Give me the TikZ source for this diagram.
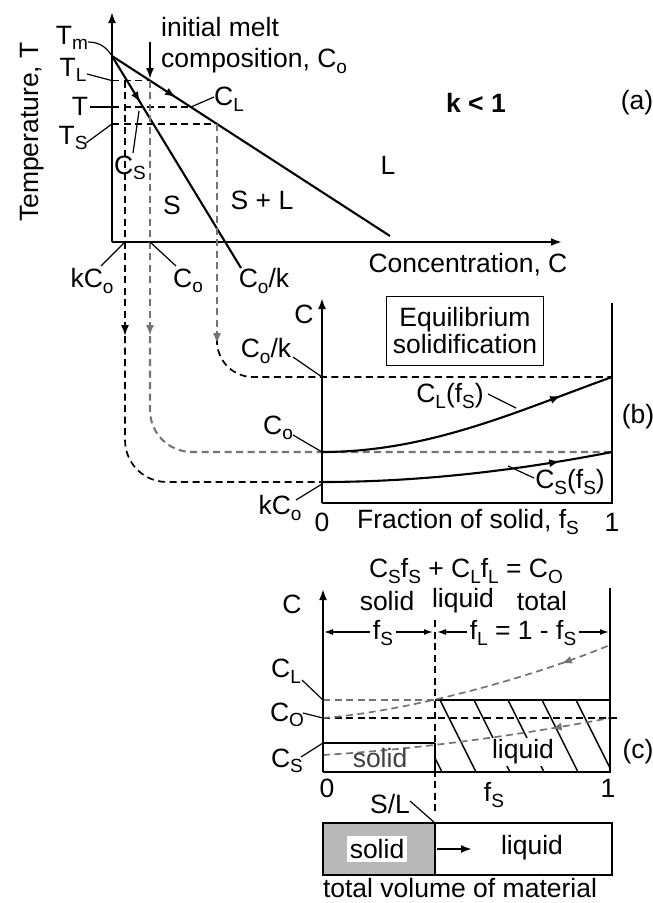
\documentclass[tikz,border=0pt]{standalone}
\usepackage{fontspec}
\setmainfont{Liberation Sans}
\usetikzlibrary{arrows.meta,decorations.markings}
\newcommand{\sbs}[1]{\raisebox{-5.5pt}{\fontsize{19}{20}\selectfont #1}}
\begin{document}
\begin{tikzpicture}[x=1pt,y=-1pt,
  lbl/.style={font=\fontsize{26.5}{29}\selectfont, inner sep=1pt},
  axis/.style={line width=2.3pt},
  curve/.style={line width=2.1pt},
  dsh/.style={line width=1.7pt, dash pattern=on 7pt off 4.5pt},
  gdsh/.style={dsh, draw=black!55},
  lead/.style={line width=1.2pt},
  arrowed/.style={-{Latex[length=11pt,width=8pt]}},
  midarrow/.style={decoration={markings, mark=at position #1 with {\arrow{Latex[length=11pt,width=8pt]}}}, postaction=decorate},
  midrev/.style={decoration={markings, mark=at position #1 with {\arrow{Latex[length=10pt,width=8pt,reversed]}}}, postaction=decorate},
]
\useasboundingbox (0,0) rectangle (653,903);

% ---------------- panel (a)
\coordinate (O) at (112,242);
\coordinate (Ytop) at (112,12);
\coordinate (Xend) at (562,242);
\coordinate (Tm) at (112,56);
\coordinate (Lend) at (390,236);
\coordinate (Send) at (241,268);
\coordinate (TL0) at (112,80.6);
\coordinate (TLl) at (150,80.6);
\coordinate (T0) at (112,107);
\coordinate (Tl) at (191,107);
\coordinate (Ts) at (139,111);
\coordinate (TS0) at (112,124);
\coordinate (TSl) at (217,124);
\coordinate (kCt) at (125,80.6);
\coordinate (kCa) at (125,242);
\coordinate (Cot) at (150,80.6);
\coordinate (Coa) at (150,242);
\coordinate (kCarr) at (125,336);
\coordinate (Coarr) at (150,336);
\coordinate (Ckarr) at (217,344);
\coordinate (meltTop) at (150,42);
\coordinate (meltTip) at (150,79);

\draw[axis,arrowed] (O) -- (Ytop);
\draw[axis,arrowed] (O) -- (Xend);
\draw[curve,midarrow=0.23] (Tm) -- (Lend);
\draw[curve,midarrow=0.22] (Tm) -- (Send);
\draw[dsh] (TL0) -- (TLl);
\draw[dsh] (T0) -- (Tl);
\draw[dsh] (TS0) -- (TSl);
\draw[dsh,arrowed] (kCt) -- (kCarr);
\draw[gdsh,line width=2.1pt,arrowed] (Cot) -- (Coarr);
\draw[gdsh,arrowed] (TSl) -- (Ckarr);
\draw[line width=1.9pt,arrowed] (meltTop) -- (meltTip);

\node[lbl,rotate=90] (temp) at (32,132) {Temperature, T};
\node[lbl] (tm) at (72,38) {T\sbs{m}};
\node[lbl] (tl) at (73,70) {T\sbs{L}};
\node[lbl] (t) at (80,106) {T};
\node[lbl] (ts) at (73,138) {T\sbs{S}};
\node[lbl] (cl) at (229,99) {C\sbs{L}};
\node[lbl] (cs) at (130,168) {C\sbs{S}};
\node[lbl,anchor=west] (melt1) at (160,27) {initial melt};
\node[lbl,anchor=west] (melt2) at (160,61) {composition, C\sbs{o}};
\node[lbl,font=\fontsize{26.5}{29}\selectfont\bfseries] (k1) at (476,103) {k < 1};
\node[lbl] (pa) at (637,103) {(a)};
\node[lbl] (Lreg) at (388,165) {L};
\node[lbl] (SLreg) at (262,200) {S + L};
\node[lbl] (Sreg) at (172,205) {S};
\node[lbl] (conc) at (468,265) {Concentration, C};
\node[lbl] (kco) at (92,281) {kC\sbs{o}};
\node[lbl] (co) at (188,281) {C\sbs{o}};
\node[lbl] (cok) at (264,281) {C\sbs{o}/k};

\draw[lead] (88,42) .. controls (100,42) and (107,48) .. (Tm);
\draw[lead] (87,74) -- (TL0);
\draw[lead] (90,107) -- (T0);
\draw[lead] (86,143) -- (TS0);
\draw[lead] (214,97) -- (Tl);
\draw[lead] (133,153) -- (Ts);
\draw[lead] (101,266) -- (kCa);
\draw[lead] (176,266) -- (Coa);

% ---------------- panel (b)
\coordinate (bO) at (322,503);
\coordinate (bTop) at (322,298);
\coordinate (bBR) at (612,503);
\coordinate (bTR) at (612,303);
\coordinate (bCk) at (322,377);
\coordinate (bCo) at (322,452);
\coordinate (bkC) at (322,482);
\coordinate (bCkR) at (612,377);
\coordinate (bCoR) at (612,452);

\draw[dsh,rounded corners=36pt] (Ckarr) -- (217,377) -- (bCkR);
\draw[gdsh,line width=2.1pt,rounded corners=42pt] (Coarr) -- (150,452) -- (bCoR);
\draw[dsh,rounded corners=42pt] (kCarr) -- (125,482) -- (bkC);

\draw[axis,arrowed] (bO) -- (bTop);
\draw[axis] (bO) -- (bBR) -- (bTR);
\draw[curve,midarrow=0.82] (bCo) .. controls (430,452) and (520,410) .. (bCkR);
\draw[curve,midarrow=0.82] (bkC) .. controls (430,482) and (530,468) .. (bCoR);

\node[lbl] (bC) at (304,314) {C};
\node[lbl,draw,line width=1.6pt,align=center,minimum width=157pt,minimum height=69pt,inner sep=2pt] (eqbox) at (465,331) {Equilibrium\\[-2pt]solidification};
\node[lbl] (bcok) at (266,351) {C\sbs{o}/k};
\node[lbl] (bco) at (278,428) {C\sbs{o}};
\node[lbl] (bkco) at (280,508) {kC\sbs{o}};
\node[lbl] (b0) at (322,522) {0};
\node[lbl] (b1) at (612,522) {1};
\node[lbl] (fracs) at (468,522) {Fraction of solid, f\sbs{S}};
\node[lbl] (pb) at (638,417) {(b)};
\node[lbl] (clf) at (450,396) {C\sbs{L}(f\sbs{S})};
\node[lbl] (csf) at (570,482) {C\sbs{S}(f\sbs{S})};
\draw[lead] (293,357) -- (bCk);
\draw[lead] (293,435) -- (bCo);
\draw[lead] (296,500) -- (322,484);
\draw[lead] (488,394) -- (516,408);
\draw[lead] (534,478) -- (508,466);

% ---------------- panel (c)
\coordinate (cO) at (323,772);
\coordinate (cTop) at (323,589);
\coordinate (cBR) at (610,772);
\coordinate (cTR) at (610,588);
\coordinate (cSL) at (435,620);
\coordinate (cSLb) at (435,815);
\coordinate (cCL) at (323,700);
\coordinate (cCo) at (323,718);
\coordinate (cCs) at (323,743);
\coordinate (cCLi) at (435,700);
\coordinate (cCsi) at (435,743);
\coordinate (cCoR) at (617,718);

\begin{scope}
\clip (435,700) rectangle (610,772);
\foreach \x in {372,406,...,620} \draw[line width=1.4pt] (\x,700) -- (\x+36,772);
\end{scope}
\draw[curve] (cCLi) -- (610,700);
\draw[curve] (cCs) -- (cCsi);
\draw[gdsh] (cCL) -- (cCLi);
\draw[dsh] (cCo) -- (cCoR);
\draw[gdsh,midrev=0.86] (cCo) .. controls (400,712) and (520,682) .. (610,645);
\draw[gdsh,midrev=0.83] (323,755) .. controls (420,749) and (520,735) .. (610,718);
\draw[dsh] (cSL) -- (cSLb);

\draw[axis,arrowed] (cO) -- (cTop);
\draw[axis] (cO) -- (cBR) -- (cTR);
\draw[line width=1.9pt] (cCsi) -- (cO -| cCsi);

\draw[line width=1.4pt,{Latex[length=9pt,width=6pt]}-{Latex[length=9pt,width=6pt]}] (324,632) -- (433,632);
\draw[line width=1.4pt,{Latex[length=9pt,width=6pt]}-{Latex[length=9pt,width=6pt]}] (437,632) -- (609,632);
\node[lbl,fill=white,inner sep=3pt] (dfs) at (383,633) {f\sbs{S}};
\node[lbl,fill=white,inner sep=3pt] (dfl) at (523,633) {f\sbs{L} = 1 - f\sbs{S}};

\node[lbl] (eq) at (466,571) {C\sbs{S}f\sbs{S} + C\sbs{L}f\sbs{L} = C\sbs{O}};
\node[lbl] (tsol) at (387,601) {solid};
\node[lbl] (tliq) at (463,601) {liquid};
\node[lbl] (ttot) at (542,601) {total};
\node[lbl] (cC) at (292,604) {C};
\node[lbl] (ccl) at (286,671) {C\sbs{L}};
\node[lbl] (cco) at (287,715) {C\sbs{O}};
\node[lbl] (ccs) at (287,761) {C\sbs{S}};
\draw[lead] (302,680) -- (cCL);
\draw[lead] (303,713) -- (cCo);
\draw[lead] (301,757) -- (cCs);
\node[lbl,text=black!75] (csolid) at (380,758) {solid};
\node[lbl,fill=white,inner sep=2pt] (cliquid) at (523,752) {liquid};
\node[lbl] (pc) at (638,752) {(c)};
\node[lbl] (c0) at (327,788) {0};
\node[lbl] (cfs) at (494,795) {f\sbs{S}};
\node[lbl] (c1) at (608,788) {1};

% ---------------- bar
\coordinate (barTL) at (323,823);
\coordinate (barBR) at (612,875);
\coordinate (barMidT) at (435,823);
\coordinate (barMidB) at (435,875);
\fill[black!28] (barTL) rectangle (barMidB);
\draw[line width=2.1pt] (barTL) rectangle (barBR);
\draw[line width=2.1pt] (barMidT) -- (barMidB);
\node[lbl,fill=white,inner sep=3pt] (bsolid) at (377,849) {solid};
\node[lbl] (bliquid) at (532,848) {liquid};
\draw[line width=1.9pt,arrowed] (437,849) -- (472,849);
\node[lbl] (sl) at (390,804) {S/L};
\draw[lead] (410,801) -- (barMidT);
\node[lbl,anchor=base] (tvm) at (460,897) {total volume of material};
\end{tikzpicture}
\end{document}
